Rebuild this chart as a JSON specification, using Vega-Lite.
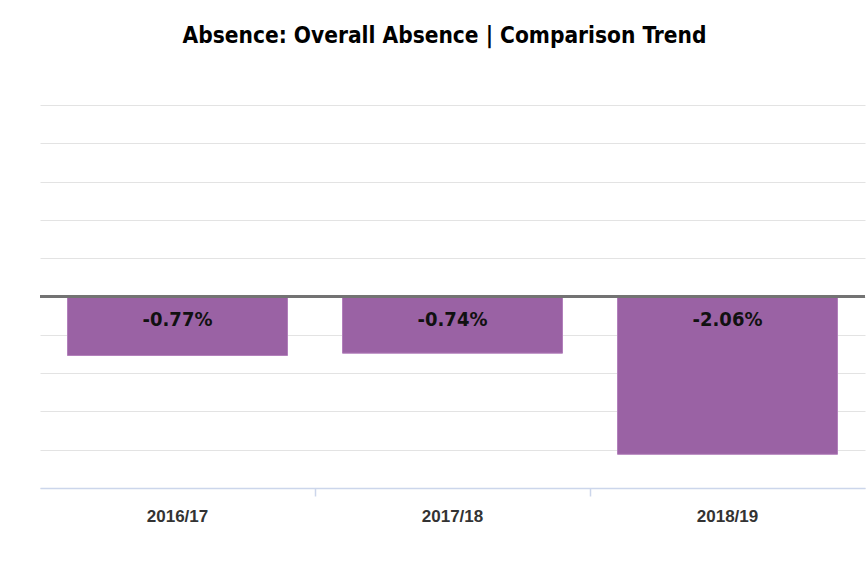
{
  "$schema": "https://vega.github.io/schema/vega-lite/v6.json",
  "autosize": "none",
  "width": 825,
  "height": 383,
  "padding": {"left": 40, "top": 105, "right": 3, "bottom": 75},
  "background": "white",
  "title": {
    "text": "Absence: Overall Absence | Comparison Trend",
    "font": "DejaVu Sans Condensed",
    "fontSize": 22.5,
    "fontWeight": "bold",
    "color": "#000000",
    "anchor": "middle",
    "frame": "group",
    "baseline": "alphabetic",
    "offset": 40,
    "dx": -8
  },
  "data": {
    "values": [
      {"year": "2016/17", "value": -0.77, "label": "-0.77%"},
      {"year": "2017/18", "value": -0.74, "label": "-0.74%"},
      {"year": "2018/19", "value": -2.06, "label": "-2.06%"}
    ]
  },
  "config": {
    "view": {"stroke": null},
    "axisY": {
      "values": [-2.5, -2, -1.5, -1, -0.5, 0, 0.5, 1, 1.5, 2, 2.5],
      "tickCount": 10,
      "labels": false,
      "ticks": false,
      "domain": false,
      "grid": true,
      "gridColor": "#e3e3e3",
      "gridWidth": 1,
      "title": null
    }
  },
  "resolve": {"axis": {"x": "independent"}},
  "layer": [
    {
      "mark": {"type": "bar", "color": "#9a62a4", "stroke": "#b27fbb", "strokeWidth": 1},
      "encoding": {
        "x": {
          "field": "year",
          "type": "nominal",
          "sort": null,
          "scale": {"paddingInner": 0.2, "paddingOuter": 0.1},
          "axis": {
            "orient": "bottom",
            "title": null,
            "labelAngle": 0,
            "labelFont": "Liberation Sans",
            "labelFontWeight": "bold",
            "labelFontSize": 17,
            "labelColor": "#333333",
            "labelBaseline": "alphabetic",
            "labelPadding": 33,
            "domainColor": "#ccd6eb",
            "domainWidth": 1.5,
            "ticks": false,
            "grid": false
          }
        },
        "y": {
          "field": "value",
          "type": "quantitative",
          "scale": {"domain": [-2.5, 2.5], "nice": false, "zero": false}
        }
      }
    },
    {
      "mark": {"type": "rule", "color": "#737373", "strokeWidth": 3},
      "encoding": {"y": {"datum": 0}}
    },
    {
      "mark": {
        "type": "text",
        "font": "DejaVu Sans Condensed",
        "fontWeight": "bold",
        "fontSize": 20,
        "color": "#111111",
        "baseline": "alphabetic",
        "dy": 29
      },
      "encoding": {
        "x": {
          "field": "year",
          "type": "nominal",
          "sort": null,
          "axis": {
            "orient": "bottom",
            "title": null,
            "labels": false,
            "domain": false,
            "grid": false,
            "bandPosition": -0.125,
            "tickSize": 8,
            "tickWidth": 1.5,
            "tickColor": {"condition": {"test": "datum.value == '2016/17'", "value": "transparent"}, "value": "#ccd6eb"}
          }
        },
        "y": {"datum": 0},
        "text": {"field": "label"}
      }
    }
  ]
}
